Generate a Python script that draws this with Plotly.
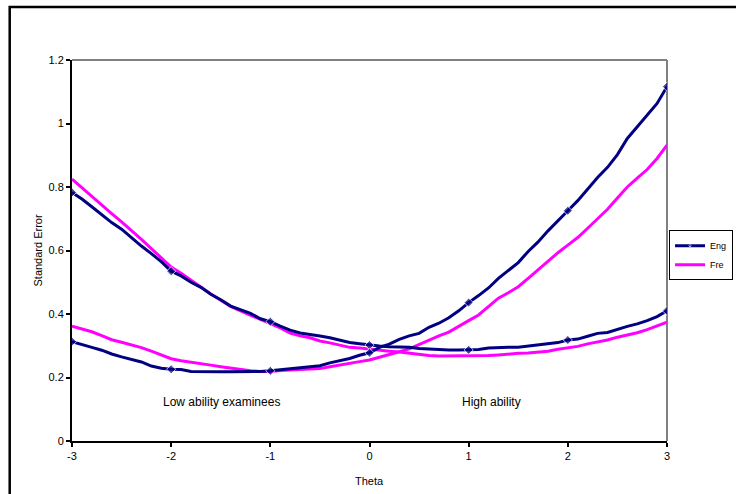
import plotly.graph_objects as go

theta = [round(-3 + 0.1 * i, 1) for i in range(61)]

eng_low = [0.783, 0.762, 0.738, 0.712, 0.688, 0.667, 0.640, 0.614, 0.590, 0.565,
           0.535, 0.520, 0.500, 0.484, 0.462, 0.445, 0.425, 0.413, 0.402, 0.385,
           0.376, 0.362, 0.349, 0.340, 0.336, 0.331, 0.325, 0.317, 0.310, 0.306,
           0.302, 0.299, 0.297, 0.296, 0.295, 0.291, 0.289, 0.287, 0.287, 0.287,
           0.287, 0.288, 0.293, 0.295, 0.295, 0.295, 0.299, 0.304, 0.307, 0.310,
           0.318, 0.321, 0.330, 0.339, 0.342, 0.352, 0.361, 0.369, 0.379, 0.392,
           0.410]

eng_high = [0.313, 0.305, 0.295, 0.286, 0.274, 0.265, 0.258, 0.249, 0.236, 0.229,
            0.226, 0.225, 0.219, 0.218, 0.218, 0.218, 0.218, 0.218, 0.218, 0.219,
            0.221, 0.224, 0.229, 0.232, 0.235, 0.237, 0.246, 0.252, 0.260, 0.270,
            0.278, 0.295, 0.305, 0.320, 0.331, 0.339, 0.358, 0.371, 0.388, 0.410,
            0.436, 0.458, 0.482, 0.512, 0.537, 0.562, 0.597, 0.627, 0.662, 0.695,
            0.725, 0.757, 0.795, 0.830, 0.862, 0.902, 0.953, 0.990, 1.025, 1.063,
            1.116]

fre_low = [0.825, 0.797, 0.770, 0.743, 0.716, 0.690, 0.664, 0.635, 0.606, 0.578,
           0.548, 0.528, 0.506, 0.486, 0.463, 0.443, 0.424, 0.410, 0.397, 0.383,
           0.370, 0.356, 0.340, 0.331, 0.325, 0.315, 0.309, 0.301, 0.295, 0.293,
           0.289, 0.286, 0.283, 0.280, 0.276, 0.272, 0.269, 0.268, 0.268, 0.268,
           0.268, 0.268, 0.269, 0.271, 0.274, 0.276, 0.277, 0.279, 0.283, 0.289,
           0.293, 0.298, 0.306, 0.311, 0.318, 0.327, 0.334, 0.341, 0.351, 0.362,
           0.374]

fre_high = [0.362, 0.353, 0.344, 0.332, 0.319, 0.311, 0.303, 0.294, 0.283, 0.272,
            0.259, 0.253, 0.249, 0.244, 0.239, 0.234, 0.229, 0.225, 0.221, 0.219,
            0.219, 0.222, 0.224, 0.225, 0.226, 0.228, 0.234, 0.240, 0.245, 0.250,
            0.255, 0.263, 0.271, 0.281, 0.290, 0.304, 0.317, 0.331, 0.343, 0.360,
            0.379, 0.397, 0.423, 0.450, 0.467, 0.486, 0.512, 0.540, 0.566, 0.593,
            0.617, 0.641, 0.670, 0.700, 0.730, 0.765, 0.800, 0.828, 0.855, 0.890,
            0.932]

x_ticks = [-3, -2, -1, 0, 1, 2, 3]
x_tick_text = ["-3", "-2", "-1", "0", "1", "2", "3"]
y_ticks = [0, 0.2, 0.4, 0.6, 0.8, 1, 1.2]
y_tick_text = ["0", "0.2", "0.4", "0.6", "0.8", "1", "1.2"]

NAVY = "#000080"
MAGENTA = "#FF00FF"
FONT = "Liberation Sans, Arial, sans-serif"

marker_sizes = [7 if abs(t - round(t)) < 1e-9 else 0 for t in theta]

fig = go.Figure()
fig.add_trace(go.Scatter(x=theta, y=fre_low, mode="lines", name="Fre",
                         line=dict(color=MAGENTA, width=3), legendrank=2,
                         legendgroup="fre"))
fig.add_trace(go.Scatter(x=theta, y=fre_high, mode="lines", name="Fre",
                         line=dict(color=MAGENTA, width=3), showlegend=False,
                         legendgroup="fre"))
fig.add_trace(go.Scatter(x=theta, y=eng_low, mode="lines+markers", name="Eng",
                         line=dict(color=NAVY, width=3), legendrank=1,
                         marker=dict(symbol="diamond", size=marker_sizes, color=NAVY),
                         legendgroup="eng"))
fig.add_trace(go.Scatter(x=theta, y=eng_high, mode="lines+markers", name="Eng",
                         line=dict(color=NAVY, width=3), showlegend=False,
                         marker=dict(symbol="diamond", size=marker_sizes, color=NAVY),
                         legendgroup="eng"))

fig.update_layout(
    width=736, height=494,
    margin=dict(l=72, r=69, t=60, b=53, autoexpand=False),
    paper_bgcolor="white", plot_bgcolor="white",
    font=dict(family=FONT, size=11, color="black"),
    showlegend=True,
    legend=dict(x=1.111, y=0.553, xanchor="right", yanchor="top",
                bordercolor="black", borderwidth=1, bgcolor="white",
                font=dict(size=9), tracegroupgap=0, itemwidth=30),
    xaxis=dict(range=[-3, 3], tickvals=x_ticks, ticktext=x_tick_text,
               showgrid=False, zeroline=False,
               showline=True, linecolor="black", linewidth=2,
               ticks="outside", ticklen=4, tickwidth=1.5, tickcolor="black",
               tickfont=dict(size=11)),
    yaxis=dict(range=[0, 1.2], tickvals=y_ticks, ticktext=y_tick_text,
               showgrid=False, zeroline=False,
               showline=True, linecolor="black", linewidth=2,
               ticks="outside", ticklen=4, tickwidth=1.5, tickcolor="black",
               tickfont=dict(size=11)),
    shapes=[
        dict(type="line", xref="paper", yref="paper", x0=0, x1=1, y0=1, y1=1,
             line=dict(color="#808080", width=2), layer="below"),
        dict(type="line", xref="paper", yref="paper", x0=1, x1=1, y0=0, y1=1,
             line=dict(color="#808080", width=2), layer="below"),
        dict(type="rect", xref="paper", yref="paper", x0=-0.1047, x1=1.2,
             y0=-0.3, y1=1.139, line=dict(color="black", width=2.5)),
    ],
    annotations=[
        dict(text="Standard Error", xref="paper", yref="paper", x=-0.0588, y=0.5,
             textangle=-90, showarrow=False, font=dict(size=11),
             xanchor="center", yanchor="middle"),
        dict(text="Theta", xref="paper", yref="paper", x=0.5, y=-0.105,
             showarrow=False, font=dict(size=11), xanchor="center", yanchor="middle"),
        dict(text="Low ability examinees", xref="x", yref="y", x=-1.49, y=0.123,
             showarrow=False, font=dict(size=12), xanchor="center", yanchor="middle"),
        dict(text="High ability", xref="x", yref="y", x=1.235, y=0.123,
             showarrow=False, font=dict(size=12), xanchor="center", yanchor="middle"),
    ],
)

fig.write_html("out.html")
